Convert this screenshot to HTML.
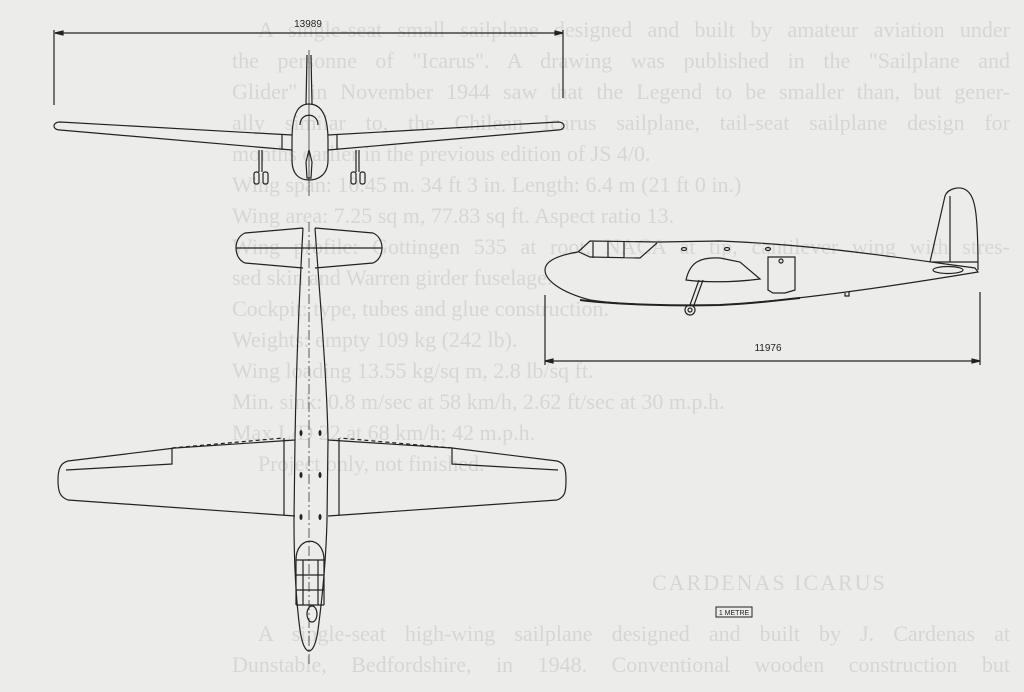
<!DOCTYPE html>
<html><head><meta charset="utf-8"><style>
html,body{margin:0;padding:0;background:#ececea;}
#p{position:relative;width:1024px;height:692px;overflow:hidden;background:#ececea;}
.t{position:absolute;left:232px;width:778px;font-family:"Liberation Serif",serif;font-size:22px;line-height:24px;color:#d6d6d4;white-space:nowrap;text-align:justify;text-align-last:justify;}
.i{left:258px;width:752px;}
.s{text-align-last:left;}
svg{position:absolute;left:0;top:0;}
</style></head><body><div id="p">
<div class="t i" style="top:18px">A single-seat small sailplane designed and built by amateur aviation under</div>
<div class="t" style="top:49px">the personne of "Icarus". A drawing was published in the "Sailplane and</div>
<div class="t" style="top:80px">Glider" in November 1944 saw that the Legend to be smaller than, but gener-</div>
<div class="t" style="top:111px">ally similar to, the Chilean Icarus sailplane, tail-seat sailplane design for</div>
<div class="t s" style="top:142px">months earlier in the previous edition of JS 4/0.</div>
<div class="t s" style="top:173px">Wing span: 10.45 m. 34 ft 3 in. Length: 6.4 m (21 ft 0 in.)</div>
<div class="t s" style="top:204px">Wing area: 7.25 sq m, 77.83 sq ft. Aspect ratio 13.</div>
<div class="t" style="top:235px">Wing profile: Gottingen 535 at root, NACA at tip, cantilever wing with stres-</div>
<div class="t s" style="top:266px">sed skin and Warren girder fuselage.</div>
<div class="t s" style="top:297px">Cockpit: type, tubes and glue construction.</div>
<div class="t s" style="top:328px">Weights: empty 109 kg (242 lb).</div>
<div class="t s" style="top:359px">Wing loading 13.55 kg/sq m, 2.8 lb/sq ft.</div>
<div class="t s" style="top:390px">Min. sink: 0.8 m/sec at 58 km/h, 2.62 ft/sec at 30 m.p.h.</div>
<div class="t s" style="top:421px">Max L/D 22 at 68 km/h; 42 m.p.h.</div>
<div class="t i s" style="top:452px">Project only, not finished.</div>
<div class="t s" style="top:571px;left:652px;width:300px;letter-spacing:2px">CARDENAS ICARUS</div>
<div class="t i" style="top:622px">A single-seat high-wing sailplane designed and built by J. Cardenas at</div>
<div class="t" style="top:653px">Dunstable, Bedfordshire, in 1948. Conventional wooden construction but</div>
<svg width="1024" height="692" viewBox="0 0 1024 692" fill="none" stroke="#222" stroke-width="1.2">
<line x1="55" y1="33" x2="563" y2="33"/>
<line x1="54" y1="30" x2="54" y2="105"/><line x1="563" y1="30" x2="563" y2="98"/>
<path d="M55 33 l8 -2 v4z M563 33 l-8 -2 v4z" fill="#222"/>
<text x="308" y="27" font-family="Liberation Sans,sans-serif" font-size="10" fill="#222" stroke="none" text-anchor="middle">13989</text>
<line x1="309" y1="50" x2="309" y2="196" stroke-width="0.7"/>
<path d="M307 55 L306 104 M311 55 L312 104"/>
<path d="M292 140 C292 110 300 104 309 104 C318 104 328 110 328 140 L328 160 C328 175 318 180 309 180 C300 180 292 175 292 160 Z"/>
<path d="M300 125 C300 112 318 112 318 125"/>
<path d="M292 135 L60 122 C52 122 52 130 60 130 L292 150 M328 135 L558 122 C566 122 566 130 558 130 L328 150"/>
<path d="M282 135 V150 M337 135 V150"/>
<path d="M259 150 V172 M262 150 V172 M356 150 V172 M359 150 V172"/>
<rect x="254" y="172" width="5" height="12" rx="2"/><rect x="263" y="172" width="5" height="12" rx="2"/>
<rect x="351" y="172" width="5" height="12" rx="2"/><rect x="360" y="172" width="5" height="12" rx="2"/>
<path d="M306 162 L309 150 L312 162 L311 178 L307 178 Z"/>
<line x1="309" y1="222" x2="309" y2="665" stroke-width="0.7" stroke-dasharray="10 3 2 3"/>
<path d="M303 228 L245 233 C233 238 233 258 245 263 L303 268 M315 228 L373 233 C385 238 385 258 373 263 L315 268"/>
<line x1="236" y1="248" x2="382" y2="248"/>
<path d="M303 228 C299 300 296 380 295 440 L294 520 C294 560 296 600 300 630 C304 658 314 658 318 630 C322 600 326 560 327 520 L328 440 C327 380 320 300 315 228"/>
<path d="M295 440 L175 448 L68 461 C60 463 58 470 58 480 C58 492 60 497 68 500 L295 516"/>
<path d="M328 440 L452 448 L557 461 C565 463 566 470 566 480 C566 492 565 497 557 500 L328 516"/>
<path d="M66 470 L172 464 V448 M558 470 L452 464 V448"/>
<path d="M172 448 L283 438 M452 448 L340 438" stroke-dasharray="4 3"/>
<path d="M284 438 V515 M339 438 V515"/>
<g fill="#222" stroke="none"><ellipse cx="301" cy="433" rx="1.5" ry="3"/><ellipse cx="320" cy="433" rx="1.5" ry="3"/><ellipse cx="301" cy="475" rx="1.5" ry="3"/><ellipse cx="320" cy="475" rx="1.5" ry="3"/><ellipse cx="301" cy="517" rx="1.5" ry="3"/><ellipse cx="320" cy="517" rx="1.5" ry="3"/></g>
<path d="M296 560 C296 535 324 535 324 560"/>
<path d="M296 560 H324 M296 575 H324 M296 590 H324 M296 605 H324 M296 560 V605 M324 560 V605 M303 560 V605 M318 560 V605"/>
<ellipse cx="312" cy="614" rx="5" ry="8"/>
<path d="M545 270 C545 260 560 255 578 252 L590 241 L658 242 L720 241 C820 245 900 258 975 268 L978 272 C900 285 800 300 720 305 C680 306 620 305 590 300 C560 292 545 280 545 270 Z"/>
<path d="M579 252 L590 257 L640 258 L657 243 M593 242 V258 M608 242 V258 M624 242 V258"/>
<path d="M686 280 C690 262 700 257 720 258 L740 262 L760 279 C730 283 700 282 686 280 Z"/>
<path d="M768 257 H795 V290 L785 293 H773 L768 290 Z"/>
<circle cx="781" cy="261" r="2"/>
<g><ellipse cx="684" cy="249" rx="2.5" ry="1.5"/><ellipse cx="727" cy="249" rx="2.5" ry="1.5"/><ellipse cx="768" cy="249" rx="2.5" ry="1.5"/></g>
<path d="M699 280 L690 305 M703 280 L694 305"/>
<circle cx="690" cy="310" r="5"/><circle cx="690" cy="310" r="2"/>
<path d="M930 262 L945 196 C948 188 960 186 966 190 C975 196 978 210 978 270"/>
<path d="M950 196 V262 M932 262 H978"/>
<ellipse cx="948" cy="270" rx="15" ry="3.5"/>
<path d="M845 293 v3 h4 v-4"/>
<path d="M580 300 C620 305 680 306 720 305 C760 303 780 300 800 298" stroke-width="2"/>
<line x1="545" y1="361" x2="980" y2="361"/>
<line x1="545" y1="295" x2="545" y2="365"/><line x1="980" y1="292" x2="980" y2="365"/>
<path d="M545 361 l8 -2 v4z M980 361 l-8 -2 v4z" fill="#222"/>
<text x="768" y="351" font-family="Liberation Sans,sans-serif" font-size="10" fill="#222" stroke="none" text-anchor="middle">11976</text>
<rect x="716" y="607" width="36" height="10" stroke-width="1"/>
<text x="734" y="615" font-family="Liberation Sans,sans-serif" font-size="7" fill="#222" stroke="none" text-anchor="middle">1 METRE</text>
</svg>
</div></body></html>
